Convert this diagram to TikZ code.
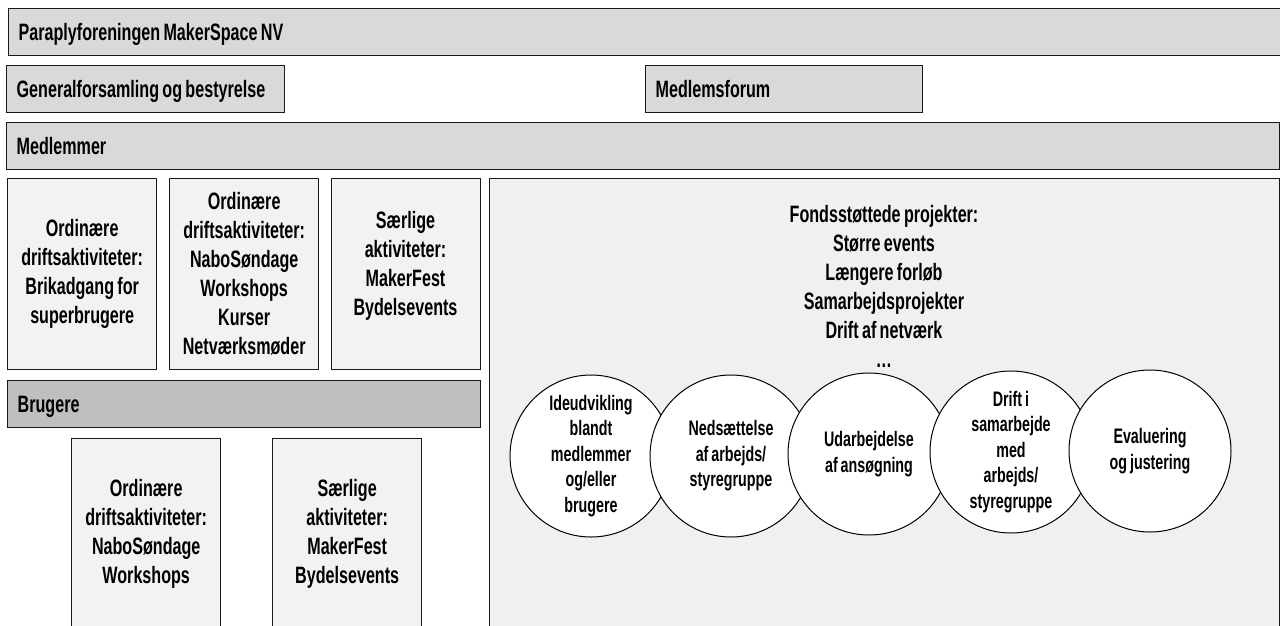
\documentclass[tikz,border=0pt]{standalone}
\usepackage{fontspec}
\setmainfont{Liberation Sans}[FakeStretch=0.68, WordSpace=0.75]

\definecolor{bargray}{HTML}{D9D9D9}
\definecolor{usergray}{HTML}{BFBFBF}
\definecolor{boxgray}{HTML}{F2F2F2}
\definecolor{projgray}{HTML}{F0F0F0}

\begin{document}
\begin{tikzpicture}[x=1pt,y=-1pt,
    every node/.style={font=\bfseries\fontsize{23.7}{29}\selectfont},
    bar/.style={draw=black!90, line width=1.4pt, fill=bargray, anchor=north west,
      minimum height=47pt, inner xsep=10pt, inner ysep=0pt,
      text height=17pt, text depth=0pt, align=flush left},
    box/.style={draw=black!90, line width=1.4pt, fill=boxgray, anchor=north west,
      minimum width=149pt, minimum height=191pt, inner sep=0pt, align=center},
    boxtext/.style={anchor=north, inner sep=0pt, align=center},
    phase/.style={circle, draw=black, line width=1pt, fill=white, minimum size=162pt,
      inner sep=0pt, align=center, font=\bfseries\fontsize{21}{25.5}\selectfont}]

      \useasboundingbox (0,0) rectangle (1280,625);

      \node[bar, text width=1270pt] (paraply)   at (8,8)   {Paraplyforeningen MakerSpace NV};
      \node[bar, text width=258pt]  (generalf)  at (6,65)  {Generalforsamling og bestyrelse};
      \node[bar, text width=257pt]  (mforum)    at (645,65) {Medlemsforum};
      \node[bar, text width=1253pt] (medlemmer) at (6,122) {Medlemmer};
      \node[bar, fill=usergray, text width=453pt] (brugere) at (7,380) {Brugere};

      \begin{scope}
        \node[box] (drift1) at (7,178)   {Ordinære\\driftsaktiviteter:\\Brikadgang for\\superbrugere};
        \node[box] (drift2) at (169,178) {Ordinære\\driftsaktiviteter:\\NaboSøndage\\Workshops\\Kurser\\Netværksmøder};
        \node[box] (saerl1) at (331,178) {};
        \node[boxtext] (saerl1tekst) at (405.5,210.7) {Særlige\\aktiviteter:\\MakerFest\\Bydelsevents};

        \node[box] (drift3) at (71,438)  {Ordinære\\driftsaktiviteter:\\NaboSøndage\\Workshops};
        \node[box] (saerl2) at (272,438) {Særlige\\aktiviteter:\\MakerFest\\Bydelsevents};

        \node[box, fill=projgray, minimum width=790pt, minimum height=470pt] (fonde) at (489,178) {};
        \node[boxtext] (fondetekst) at (884,204.7)
          {Fondsstøttede projekter:\\Større events\\Længere forløb\\Samarbejdsprojekter\\Drift af netværk\\\dots};
      \end{scope}

      \begin{scope}
        \node[phase] (ide)      at (591,456)  {Ideudvikling\\blandt\\medlemmer\\og/eller\\brugere};
        \node[phase] (nedsaet)  at (731,456)  {Nedsættelse\\af arbejds/\\styregruppe};
        \node[phase] (udarb)    at (869,454)  {Udarbejdelse\\af ansøgning};
        \node[phase] (samarb)   at (1011,452) {Drift i\\samarbejde\\med\\arbejds/\\styregruppe};
        \node[phase] (evaluer)  at (1150,451) {Evaluering\\og justering};
      \end{scope}

    \end{tikzpicture}
\end{document}
